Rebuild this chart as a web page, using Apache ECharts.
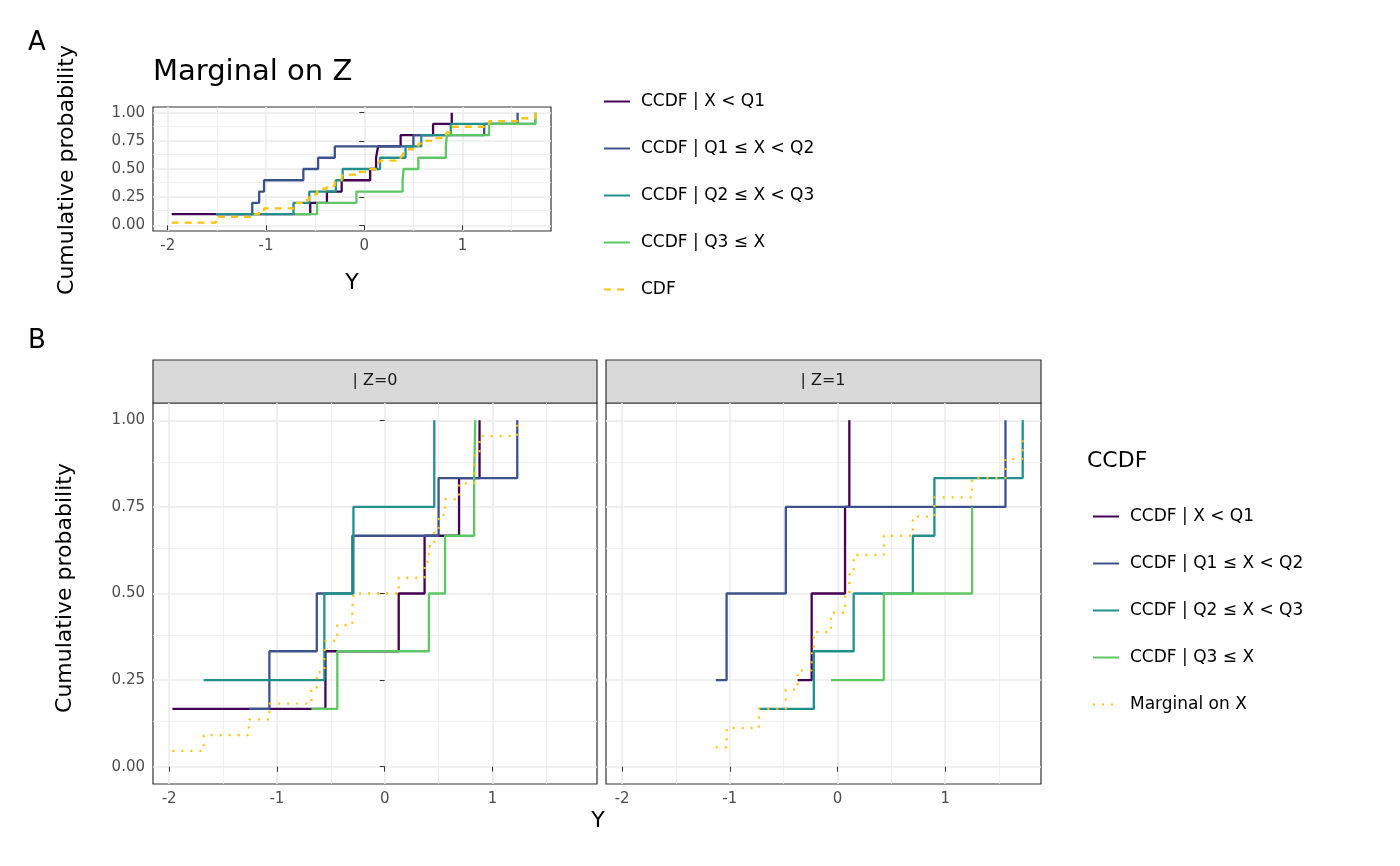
<!DOCTYPE html>
<html>
<head>
<meta charset="utf-8">
<script src="https://cdn.jsdelivr.net/npm/echarts@6/dist/echarts.min.js"></script>
<style>html,body{margin:0;background:#fff}#c{width:1400px;height:866px}</style>
</head>
<body>
<div id="c"></div>
<script>
// jump points of each conditional ECDF (x values)
var namesA = ['CCDF | X < Q1', 'CCDF | Q1 ≤ X < Q2', 'CCDF | Q2 ≤ X < Q3', 'CCDF | Q3 ≤ X'];
var colors = ['#440154', '#3B528B', '#21908C', '#5DC863'];
var gold = '#FFC20E';

// panel A : 10 obs per group
var aX = [
    [-1.96, -0.55, -0.38, -0.23, 0.06, 0.12, 0.14, 0.37, 0.70, 0.89],
    [-1.51, -1.14, -1.07, -1.02, -0.62, -0.47, -0.30, 0.50, 1.22, 1.56],
    [-1.51, -0.72, -0.56, -0.29, -0.22, 0.16, 0.42, 0.58, 0.88, 1.74],
    [-0.71, -0.48, -0.08, 0.39, 0.40, 0.55, 0.83, 0.84, 1.27, 1.74]
];
var aN = [10, 10, 10, 10];
// panel B, Z=0
var b0X = [
    [-1.97, -0.55, 0.13, 0.37, 0.69, 0.88],
    [-1.26, -1.07, -0.63, -0.30, 0.50, 1.23],
    [-1.68, -0.56, -0.29, 0.46],
    [-0.68, -0.44, 0.41, 0.56, 0.83, 0.84]
];
var b0N = [6, 6, 4, 6];
// panel B, Z=1
var b1X = [
    [-0.37, -0.24, 0.07, 0.11],
    [-1.13, -1.03, -0.48, 1.56],
    [-0.73, -0.22, 0.15, 0.70, 0.90, 1.72],
    [-0.06, 0.43, 1.25]
];
var b1N = [4, 4, 6, 4];

var xTicks = [-2, -1, 0, 1];
var yTicks = [0, 0.25, 0.5, 0.75, 1];

function ecdf(xs, n) {
    return xs.map(function (x, i) { return [x, (i + 1) / n]; });
}
function pooled(groups, ns) {
    var all = [].concat.apply([], groups).sort(function (a, b) { return a - b; });
    var n = ns.reduce(function (a, b) { return a + b; }, 0);
    return ecdf(all, n);
}

var font = 'DejaVu Sans';
var grids = [
    {left: 153, top: 107, width: 398, height: 124},
    {left: 153, top: 403, width: 444, height: 381},
    {left: 606, top: 403, width: 435, height: 381}
];
grids.forEach(function (g) { g.show = true; g.borderColor = '#333'; g.borderWidth = 1.2; g.backgroundColor = '#fff'; });

var xAxes = [], yAxes = [], series = [];
grids.forEach(function (g, i) {
    xAxes.push({
        type: 'value', gridIndex: i, min: -2.15, max: i === 0 ? 1.9 : (i === 1 ? 1.97 : 1.89),
        splitLine: {show: false}, axisLine: {show: false},
        axisTick: {show: true, customValues: xTicks, length: 5, lineStyle: {color: '#333'}},
        axisLabel: {customValues: xTicks, color: '#4d4d4d', fontSize: 15, fontFamily: font, margin: 8}
    });
    yAxes.push({
        type: 'value', gridIndex: i, min: -0.05, max: 1.05,
        splitLine: {show: false}, axisLine: {show: false},
        axisTick: {show: i !== 2, customValues: yTicks, length: 5, lineStyle: {color: '#333'}},
        axisLabel: {show: i !== 2, customValues: yTicks, color: '#4d4d4d', fontSize: 15, fontFamily: font,
            formatter: function (v) { return v.toFixed(2); }}
    });
    // background grid lines
    var ml = [];
    for (var v = -2; v <= 2.01; v += 0.5) {
        ml.push({xAxis: v, lineStyle: {color: '#ebebeb', width: Math.abs(v % 1) < 1e-6 ? 1.6 : 0.8, type: 'solid'}});
    }
    for (var w = 0; w <= 1.001; w += 0.125) {
        ml.push({yAxis: w, lineStyle: {color: '#ebebeb', width: Math.abs((w / 0.25) % 1) < 1e-6 ? 1.6 : 0.8, type: 'solid'}});
    }
    series.push({
        type: 'line', xAxisIndex: i, yAxisIndex: i, data: [], silent: true, z: 0, zlevel: 0,
        markLine: {silent: true, symbol: 'none', label: {show: false}, animation: false, z: 0, data: ml}
    });
});

function stepSeries(name, data, color, gi, type) {
    return {
        name: name, type: 'line', step: 'end', xAxisIndex: gi, yAxisIndex: gi, z: 5,
        data: data, showSymbol: false, symbol: 'none', animation: false,
        emphasis: {disabled: true},
        lineStyle: {color: color, width: 2.3, type: type || 'solid'}, itemStyle: {color: color}
    };
}

[[aX, aN], [b0X, b0N], [b1X, b1N]].forEach(function (p, gi) {
    p[0].forEach(function (xs, k) {
        series.push(stepSeries(namesA[k], ecdf(xs, p[1][k]), colors[k], gi));
    });
    var m = pooled(p[0], p[1]);
    if (gi === 0) series.push(stepSeries('CDF', m, gold, gi, [7, 6]));
    else series.push(stepSeries('Marginal on X', m, gold, gi, [2, 7]));
});

var legendText = {fontSize: 17, fontFamily: font, color: '#000', padding: [0, 0, 0, 6]};
var option = {
    backgroundColor: '#fff',
    grid: grids, xAxis: xAxes, yAxis: yAxes, series: series,
    legend: [
        {orient: 'vertical', left: 598, top: 88, itemGap: 30, itemWidth: 26, itemHeight: 16,
            itemStyle: {opacity: 0}, textStyle: legendText, data: namesA.concat(['CDF'])},
        {orient: 'vertical', left: 1087, top: 503, itemGap: 30, itemWidth: 26, itemHeight: 16,
            itemStyle: {opacity: 0}, textStyle: legendText, data: namesA.concat(['Marginal on X'])}
    ],
    graphic: [
        {type: 'text', left: 28, top: 30, style: {text: 'A', fontSize: 26, fontFamily: font, fill: '#000'}},
        {type: 'text', left: 28, top: 328, style: {text: 'B', fontSize: 26, fontFamily: font, fill: '#000'}},
        {type: 'text', left: 153, top: 58, style: {text: 'Marginal on Z', fontSize: 29, fontFamily: font, fill: '#000'}},
        {type: 'text', x: 67, y: 170, rotation: Math.PI / 2, style: {text: 'Cumulative probability', fontSize: 22, fontFamily: font, fill: '#000', align: 'center', verticalAlign: 'middle'}},
        {type: 'text', x: 352, y: 283, style: {text: 'Y', fontSize: 22, fontFamily: font, fill: '#000', align: 'center', verticalAlign: 'middle'}},
        {type: 'text', x: 65, y: 588, rotation: Math.PI / 2, style: {text: 'Cumulative probability', fontSize: 22, fontFamily: font, fill: '#000', align: 'center', verticalAlign: 'middle'}},
        {type: 'text', x: 598, y: 821, style: {text: 'Y', fontSize: 22, fontFamily: font, fill: '#000', align: 'center', verticalAlign: 'middle'}},
        {type: 'rect', shape: {x: 153, y: 360, width: 444, height: 43}, style: {fill: '#d9d9d9', stroke: '#333', lineWidth: 1.2}},
        {type: 'rect', shape: {x: 606, y: 360, width: 435, height: 43}, style: {fill: '#d9d9d9', stroke: '#333', lineWidth: 1.2}},
        {type: 'text', x: 375, y: 381, style: {text: '| Z=0', fontSize: 16, fontFamily: font, fill: '#1a1a1a', align: 'center', verticalAlign: 'middle'}},
        {type: 'text', x: 823, y: 381, style: {text: '| Z=1', fontSize: 16, fontFamily: font, fill: '#1a1a1a', align: 'center', verticalAlign: 'middle'}},
        {type: 'text', left: 1087, top: 450, style: {text: 'CCDF', fontSize: 22, fontFamily: font, fill: '#000'}}
    ]
};
echarts.init(document.getElementById('c')).setOption(option);
</script>
</body>
</html>
